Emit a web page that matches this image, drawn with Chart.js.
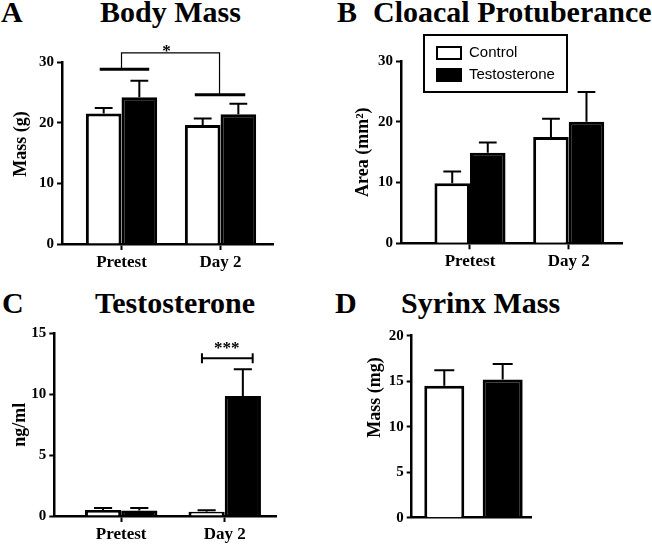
<!DOCTYPE html>
<html>
<head>
<meta charset="utf-8">
<script src="https://cdn.jsdelivr.net/npm/chart.js@4"></script>
<style>
  body { margin: 0; background: #fff; width: 652px; height: 546px; position: relative; overflow: hidden; }
  canvas { position: absolute; }
  .t { position: absolute; font-family: "Liberation Serif", "Times New Roman", serif; font-weight: bold;
       font-size: 30px; line-height: 30px; color: #000; white-space: nowrap; }
</style>
</head>
<body>
<div class="t" style="left:1px;top:-3px">A</div>
<div class="t" style="left:100px;top:-3px">Body Mass</div>
<div class="t" style="left:337px;top:-3px">B</div>
<div class="t" style="left:373px;top:-3px">Cloacal Protuberance</div>
<div class="t" style="left:2px;top:288px">C</div>
<div class="t" style="left:95px;top:288px">Testosterone</div>
<div class="t" style="left:335px;top:288px">D</div>
<div class="t" style="left:401px;top:288px">Syrinx Mass</div>

<canvas id="cA" width="326" height="275" style="left:0;top:0"></canvas>
<canvas id="cB" width="322" height="275" style="left:330px;top:0"></canvas>
<canvas id="cC" width="326" height="266" style="left:0;top:280px"></canvas>
<canvas id="cD" width="322" height="266" style="left:330px;top:280px"></canvas>

<script>
var groups = ['Pretest', 'Day 2'];
var seriesNames = ['Control', 'Testosterone'];

// A - body mass (g)
var bodyCtrl = [21.5, 19.6];
var bodyCtrlErr = [0.9, 1.1];
var bodyTest = [24.2, 21.4];
var bodyTestErr = [2.7, 1.7];

// B - cloacal protuberance area (mm2)
var cloacaCtrl = [9.9, 17.5];
var cloacaCtrlErr = [1.9, 3.0];
var cloacaTest = [14.9, 20.0];
var cloacaTestErr = [1.7, 4.9];

// C - testosterone (ng/ml)
var testoCtrl = [0.5, 0.35];
var testoCtrlErr = [0.15, 0.12];
var testoTest = [0.45, 9.85];
var testoTestErr = [0.2, 2.2];

// D - syrinx mass (mg), control vs testosterone
var syrinxMass = [14.5, 15.2];
var syrinxErr = [1.7, 1.7];

var serif = '"Liberation Serif", "Times New Roman", serif';
var sans = '"Liberation Sans", Arial, sans-serif';

var errorBars = {
  id: 'errorBars',
  afterDatasetsDraw: function(chart) {
    var ctx = chart.ctx, ys = chart.scales.y;
    chart.data.datasets.forEach(function(ds, d) {
      if (!ds.errors) return;
      chart.getDatasetMeta(d).data.forEach(function(bar, i) {
        var top = ys.getPixelForValue(ds.data[i].y + ds.errors[i]);
        var half = bar.width / 4;
        ctx.save();
        ctx.strokeStyle = '#000';
        ctx.lineWidth = 2;
        ctx.beginPath();
        ctx.moveTo(bar.x, bar.y);
        ctx.lineTo(bar.x, top);
        ctx.moveTo(bar.x - half, top);
        ctx.lineTo(bar.x + half, top);
        ctx.stroke();
        ctx.restore();
      });
    });
  }
};
Chart.register(errorBars);

function barSet(label, means, errs, fill, pct) {
  return {
    label: label,
    data: means.map(function(v, i) { return {x: i, y: v}; }),
    errors: errs,
    backgroundColor: fill,
    borderColor: '#000',
    borderWidth: 3,
    borderSkipped: 'start',
    categoryPercentage: pct,
    barPercentage: 1
  };
}

function makeOptions(o) {
  return {
    responsive: false,
    animation: false,
    layout: {padding: {top: o.top, right: o.right, left: 0, bottom: 0}},
    plugins: {legend: {display: false}, tooltip: {enabled: false}},
    scales: {
      x: {
        type: 'linear', min: o.xmin, max: o.xmax, offset: false,
        afterFit: function(s) { s.height = o.xh; },
        border: {color: '#000', width: 2.5},
        grid: {offset: false, drawOnChartArea: false, drawTicks: o.xticks, tickLength: 6, tickWidth: 2, color: '#000'},
        ticks: {
          display: o.xticks, stepSize: 1, includeBounds: false, maxRotation: 0, padding: 2,
          color: '#000', font: {family: serif, weight: 'bold', size: 17},
          callback: function(v) { return groups[v] !== undefined ? groups[v] : ''; }
        }
      },
      y: {
        min: 0, max: o.ymax,
        afterFit: function(s) { s.width = o.yw; },
        border: {color: '#000', width: 2.5},
        grid: {drawOnChartArea: false, tickLength: 5, tickWidth: 2, color: '#000'},
        ticks: {stepSize: o.step, padding: 3, color: '#000', font: {family: serif, weight: 'bold', size: 15}},
        title: {display: true, text: o.ytitle, color: '#000',
                font: {family: serif, weight: 'bold', size: 18}, padding: {top: o.tp, bottom: 0}}
      }
    }
  };
}

function line(ctx, pts, w) {
  ctx.lineWidth = w;
  ctx.beginPath();
  pts.forEach(function(p, i) { if (i) ctx.lineTo(p[0], p[1]); else ctx.moveTo(p[0], p[1]); });
  ctx.stroke();
}

// A
new Chart(document.getElementById('cA'), {
  type: 'bar',
  data: {datasets: [
    barSet(seriesNames[0], bodyCtrl, bodyCtrlErr, '#fff', 0.72),
    barSet(seriesNames[1], bodyTest, bodyTestErr, '#000', 0.72)
  ]},
  options: makeOptions({top: 62, right: 53, xh: 31, yw: 62, xmin: -0.601, xmax: 1.53,
                        xticks: true, ymax: 30, step: 10, ytitle: '    Mass (g)', tp: 10.9}),
  plugins: [{
    id: 'sigA',
    afterDraw: function(chart) {
      var ctx = chart.ctx, x = chart.scales.x, y = chart.scales.y;
      function P(a, b) { return [x.getPixelForValue(a), y.getPixelForValue(b)]; }
      ctx.save();
      ctx.strokeStyle = '#000';
      line(ctx, [P(-0.22, 28.8), P(0.28, 28.8)], 3);
      line(ctx, [P(0.74, 24.6), P(1.25, 24.6)], 3);
      line(ctx, [P(0, 28.8), P(0, 31.5), P(0.99, 31.5), P(0.99, 24.6)], 1.2);
      ctx.fillStyle = '#000';
      ctx.font = 'bold 17px ' + serif;
      ctx.textAlign = 'center';
      ctx.textBaseline = 'alphabetic';
      var s = P(0.455, 32.5);
      ctx.fillText('*', s[0], s[1] + 9);
      ctx.restore();
    }
  }]
});

// B
new Chart(document.getElementById('cB'), {
  type: 'bar',
  data: {datasets: [
    barSet(seriesNames[0], cloacaCtrl, cloacaCtrlErr, '#fff', 0.72),
    barSet(seriesNames[1], cloacaTest, cloacaTestErr, '#000', 0.72)
  ]},
  options: makeOptions({top: 61, right: 29.3, xh: 31.7, yw: 71, xmin: -0.699, xmax: 1.547,
                        xticks: true, ymax: 30, step: 10, ytitle: 'Area (mm²)', tp: 22.5}),
  plugins: [{
    id: 'legendB',
    afterDraw: function(chart) {
      var ctx = chart.ctx;
      ctx.save();
      ctx.strokeStyle = '#000';
      ctx.lineWidth = 2;
      ctx.strokeRect(94, 35, 143, 57);
      ctx.font = '15px ' + sans;
      ctx.textBaseline = 'middle';
      chart.data.datasets.forEach(function(ds, i) {
        var top = i ? 69 : 47;
        ctx.fillStyle = ds.backgroundColor;
        ctx.fillRect(107, top, 24, 12);
        ctx.strokeRect(107, top, 24, 12);
        ctx.fillStyle = '#000';
        ctx.fillText(ds.label, 139, top + 6);
      });
      ctx.restore();
    }
  }]
});

// C
new Chart(document.getElementById('cC'), {
  type: 'bar',
  data: {datasets: [
    barSet(seriesNames[0], testoCtrl, testoCtrlErr, '#fff', 0.70),
    barSet(seriesNames[1], testoTest, testoTestErr, '#000', 0.70)
  ]},
  options: makeOptions({top: 53.3, right: 49.3, xh: 30, yw: 54.3, xmin: -0.646, xmax: 1.502,
                        xticks: true, ymax: 15, step: 5, ytitle: 'ng/ml', tp: 10}),
  plugins: [{
    id: 'sigC',
    afterDraw: function(chart) {
      var ctx = chart.ctx, x = chart.scales.x, y = chart.scales.y;
      var x0 = x.getPixelForValue(0.78), x1 = x.getPixelForValue(1.27), yy = y.getPixelForValue(12.95);
      ctx.save();
      ctx.strokeStyle = '#000';
      line(ctx, [[x0, yy], [x1, yy]], 2);
      line(ctx, [[x0, yy - 5], [x0, yy + 5]], 2);
      line(ctx, [[x1, yy - 5], [x1, yy + 5]], 2);
      ctx.fillStyle = '#000';
      ctx.font = 'bold 17px ' + serif;
      ctx.textAlign = 'center';
      ctx.textBaseline = 'alphabetic';
      ctx.fillText('***', x.getPixelForValue(1.02), y.getPixelForValue(14.15) + 9);
      ctx.restore();
    }
  }]
});

// D
var dSet = barSet('Syrinx mass', syrinxMass, syrinxErr, ['#fff', '#000'], 0.685);
new Chart(document.getElementById('cD'), {
  type: 'bar',
  data: {datasets: [dSet]},
  options: makeOptions({top: 55.7, right: 120.3, xh: 28.3, yw: 81.7, xmin: -0.558, xmax: 1.497,
                        xticks: false, ymax: 20, step: 5, ytitle: '             Mass (mg)', tp: 34.2})
});
</script>
</body>
</html>
